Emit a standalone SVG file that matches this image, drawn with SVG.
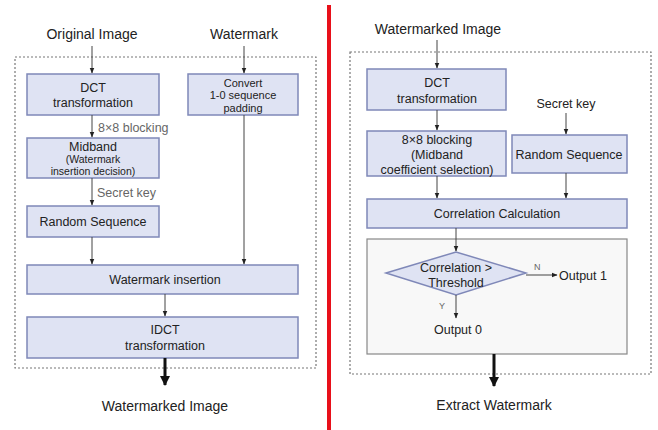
<svg xmlns="http://www.w3.org/2000/svg" width="658" height="430" viewBox="0 0 658 430">
<defs>
<marker id="ah" viewBox="0 0 10 10" refX="9" refY="5" markerWidth="6" markerHeight="6" markerUnits="userSpaceOnUse" orient="auto"><path d="M0,1 L10,5 L0,9 z" fill="#222"/></marker>
<marker id="ahb" viewBox="0 0 10 10" refX="9" refY="5" markerWidth="10" markerHeight="10" markerUnits="userSpaceOnUse" orient="auto"><path d="M0,0 L10,5 L0,10 z" fill="#111"/></marker>
<style>
.box{fill:#dfe3f3;stroke:#7f88b8;stroke-width:1.5}
.dot{fill:none;stroke:#777;stroke-width:1.2;stroke-dasharray:2,2}
.t{font-family:"Liberation Sans",Arial,sans-serif;font-size:12.5px;fill:#222;text-anchor:middle}
.s{font-family:"Liberation Sans",Arial,sans-serif;font-size:10.5px;fill:#222;text-anchor:middle}
.h{font-family:"Liberation Sans",Arial,sans-serif;font-size:14px;fill:#222;text-anchor:middle}
.l{font-family:"Liberation Sans",Arial,sans-serif;font-size:12.5px;fill:#666}
.c{stroke:#444;stroke-width:1;fill:none}
.k{stroke:#111;stroke-width:3;fill:none}
</style>
</defs>
<rect width="658" height="430" fill="#fff"/>
<line x1="329" y1="5" x2="329" y2="430" stroke="#e8101a" stroke-width="4"/>
<rect class="dot" x="15" y="57" width="301" height="311"/>
<rect class="dot" x="350" y="52" width="301" height="322"/>
<text class="h" x="92" y="39">Original Image</text>
<text class="h" x="244" y="39">Watermark</text>
<text class="h" x="165" y="411">Watermarked Image</text>
<text class="h" x="438" y="34">Watermarked Image</text>
<text class="h" x="494" y="410">Extract Watermark</text>
<g id="dct1"><rect class="box" x="27" y="74" width="132" height="41"/><text class="t" x="93" y="92">DCT</text><text class="t" x="93" y="107">transformation</text></g>
<g id="convert"><rect class="box" x="188" y="74" width="110" height="41"/><text class="t" x="243" y="86.5" style="font-size:11px">Convert</text><text class="t" x="243" y="99.2" style="font-size:11px">1-0 sequence</text><text class="t" x="243" y="111.9" style="font-size:11px">padding</text></g>
<g id="midband"><rect class="box" x="27" y="138" width="132" height="40"/><text class="t" x="93" y="151">Midband</text><text class="s" x="93" y="163">(Watermark</text><text class="s" x="93" y="175">insertion decision)</text></g>
<g id="rand1"><rect class="box" x="27" y="206" width="132" height="31"/><text class="t" x="93" y="226">Random Sequence</text></g>
<g id="insert"><rect class="box" x="27" y="265" width="271" height="29"/><text class="t" x="165" y="284">Watermark insertion</text></g>
<g id="idct"><rect class="box" x="27" y="317" width="271" height="41"/><text class="t" x="165" y="334">IDCT</text><text class="t" x="165" y="350">transformation</text></g>
<g id="dct2"><rect class="box" x="367" y="69" width="139" height="41"/><text class="t" x="437" y="87">DCT</text><text class="t" x="437" y="103">transformation</text></g>
<g id="secret2"><text class="t" x="566" y="108">Secret key</text></g>
<g id="rand2"><rect class="box" x="512" y="135" width="115" height="38"/><text class="t" x="569" y="159">Random Sequence</text></g>
<g id="block2"><rect class="box" x="367" y="131" width="139" height="45"/><text class="t" x="437" y="144">8×8 blocking</text><text class="t" x="437" y="159">(Midband</text><text class="t" x="437" y="174">coefficient selection)</text></g>
<g id="corr"><rect class="box" x="367" y="199" width="260" height="29"/><text class="t" x="497" y="218">Correlation Calculation</text></g>
<g id="decbox"><rect x="367" y="239" width="260" height="115" fill="#f8f8f8" stroke="#888" stroke-width="1.2"/></g>
<g id="diamond"><polygon class="box" points="386,273 456,252 526,273 456,295"/><text class="t" x="456" y="272">Correlation &gt;</text><text class="t" x="456" y="287">Threshold</text></g>
<g id="out1"><text class="t" x="559" y="280" style="text-anchor:start">Output 1</text></g>
<g id="out0"><text class="t" x="458" y="334">Output 0</text></g>
<g id="connectors">
<line class="c" x1="92" y1="46" x2="92" y2="73" marker-end="url(#ah)"/>
<line class="c" x1="244" y1="46" x2="244" y2="73" marker-end="url(#ah)"/>
<line class="c" x1="92" y1="115" x2="92" y2="137" marker-end="url(#ah)"/>
<text class="l" x="98" y="132">8×8 blocking</text>
<line class="c" x1="92" y1="178" x2="92" y2="205" marker-end="url(#ah)"/>
<text class="l" x="97" y="197">Secret key</text>
<line class="c" x1="92" y1="237" x2="92" y2="264" marker-end="url(#ah)"/>
<line class="c" x1="244" y1="115" x2="244" y2="264" marker-end="url(#ah)"/>
<line class="c" x1="165" y1="294" x2="165" y2="316" marker-end="url(#ah)"/>
<line class="k" x1="165" y1="358" x2="165" y2="385" marker-end="url(#ahb)"/>
<line class="c" x1="437" y1="40" x2="437" y2="68" marker-end="url(#ah)"/>
<line class="c" x1="437" y1="110" x2="437" y2="130" marker-end="url(#ah)"/>
<line class="c" x1="566" y1="113" x2="566" y2="134" marker-end="url(#ah)"/>
<line class="c" x1="437" y1="176" x2="437" y2="198" marker-end="url(#ah)"/>
<line class="c" x1="566" y1="173" x2="566" y2="198" marker-end="url(#ah)"/>
<line class="c" x1="456" y1="228" x2="456" y2="251" marker-end="url(#ah)"/>
<line class="c" x1="526" y1="275" x2="557" y2="275" marker-end="url(#ah)"/>
<text class="l" x="534" y="270" style="font-size:9px">N</text>
<line class="c" x1="456" y1="295" x2="456" y2="318" marker-end="url(#ah)"/>
<text class="l" x="439" y="309" style="font-size:9px">Y</text>
<line class="k" x1="494" y1="354" x2="494" y2="386" marker-end="url(#ahb)"/>
</g>
</svg>
